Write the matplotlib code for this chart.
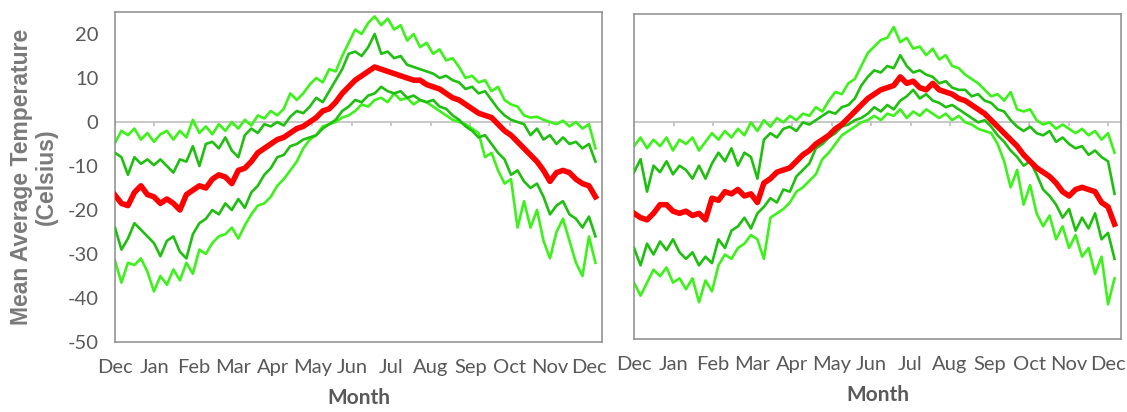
import numpy as np
import matplotlib.pyplot as plt

plt.rcParams['font.family'] = ['Lato', 'DejaVu Sans']
plt.rcParams['axes.unicode_minus'] = False

# sampled every 5 days starting 1 Dec
days = np.arange(0, 371, 5)
months = ["Dec", "Jan", "Feb", "Mar", "Apr", "May", "Jun",
          "Jul", "Aug", "Sep", "Oct", "Nov", "Dec"]
yticks = [-50, -40, -30, -20, -10, 0, 10, 20]

# ---- left station ----
left_p95 = [-4.8, -2, -3, -1.5, -4, -2.5, -4.5, -2.8, -2, -4, -2, -3.5, 0.5, -2.5, -1,
            -2.8, -0.5, -2, 0, -1.5, 0.5, -0.8, 1.5, 0.8, 2.5, 1.5, 3, 6.5, 5, 6.5,
            8.5, 10, 9, 12, 11.5, 15, 18, 21, 20, 22.5, 24, 22, 23.5, 21, 22,
            18.5, 20, 17, 18, 15.5, 16.5, 14, 14.5, 12.5, 10, 10.5, 9, 9.5, 7, 8,
            5, 4, 3.5, 1.5, 1, 1.2, 0.5, 0, -0.5, 0.3, -1, 0, -1.5, -0.5, -6]
left_p75 = [-7, -8, -12, -8, -9.5, -8.5, -9.8, -8.5, -10, -11.5, -8.5, -9, -5.5, -10, -5,
            -4.5, -6, -3.5, -6.5, -8, -3, -1.5, -2.5, -0.5, -1, 0, -0.8, 1.2, 2.5, 2,
            3.5, 5.5, 4.5, 7, 9.5, 12, 15.5, 16, 15, 17, 20, 15.5, 16, 14.5, 15,
            13, 12.5, 12, 11.5, 11, 10, 10.5, 9.5, 9, 7.5, 8, 6.5, 7, 5, 3,
            1.5, 0.5, 0, -0.5, -3, -1.5, -4, -3, -5, -3.5, -5, -4.5, -6, -5, -9]
left_p50 = [-16.6, -18.5, -19, -16, -14.5, -16.5, -17, -18.5, -17.5, -18.5, -20, -16.5, -15.5, -14.5, -15,
            -13, -12, -12.5, -14, -11, -10.5, -9, -7, -6, -5, -4, -3.5, -2.5, -1.5, -1,
            0, 1, 2.5, 3, 4.5, 6.5, 8, 9.5, 10.5, 11.5, 12.5, 12, 11.5, 11, 10.5,
            10, 9.5, 9.5, 8.5, 8, 7.5, 6.5, 5.5, 5, 4, 3, 2, 1.5, 1, -0.5,
            -2, -3, -4.5, -6, -7.5, -9, -11, -13.5, -11.5, -11, -11.5, -13, -14, -14.5, -17]
left_p25 = [-24, -29, -26.5, -23, -24.5, -26, -27.5, -30.5, -27, -26, -29.5, -31, -25.5, -23, -22,
            -20, -21, -18.5, -20, -17.5, -19.5, -16, -14.5, -12, -10.5, -8, -7.5, -5.5, -5, -4,
            -3.5, -3, -1.5, -0.5, 0.5, 2.5, 3.5, 5, 4.5, 6, 6.5, 8, 7, 6.5, 7,
            5.5, 6, 5, 4.5, 5, 3.5, 3, 1.5, 0.5, -1, -2, -3.5, -3, -5, -7,
            -8.5, -12, -11, -13.5, -15, -14, -17, -21, -19, -18, -21, -22, -24, -21.5, -26]
left_p5 = [-31.5, -36.5, -32, -32.5, -31, -34, -38.5, -35, -37, -33.5, -36, -32, -34.5, -29, -30,
           -27.5, -26, -25.5, -24, -26.5, -23.5, -21, -19, -18.5, -17, -14.5, -13, -11, -9, -6,
           -4, -3, -1, -0.5, 0, 1, 1.5, 2.5, 4, 3.5, 5, 5.5, 4.5, 6.5, 5,
           5.5, 4, 5, 4.5, 3.5, 2.5, 1.5, 0.5, 0, -0.5, -1.5, -2.5, -8, -7, -11,
           -14, -13, -24, -18, -24, -20, -27, -31, -25, -22, -27, -32, -35, -26, -32]

# ---- right station ----
right_p95 = [-5.5, -3.5, -6, -4, -5.5, -3.5, -6.5, -4, -5, -3.5, -6.5, -4.5, -2.5, -4, -2,
             -3.5, -1.5, -3, 0, -2, 0.5, -1, 1, 0, 1.5, 0.5, 2, 1.5, 3.5, 2.5,
             5, 7, 6.5, 9, 10, 13, 16, 17.5, 19, 19.5, 22, 18.5, 19.5, 17, 17.5,
             15.5, 17, 14.5, 15.5, 13, 12.5, 11, 10, 9, 7.5, 6, 6.5, 5, 7, 3,
             2.5, 3, 0.5, -0.5, 0, -1.5, -0.5, -1.5, -2.5, -1.5, -3, -2, -4, -2.5, -7]
right_p75 = [-11.5, -8.5, -16, -10, -11.5, -9, -12, -10, -11, -13, -10, -13, -9.5, -7, -9,
             -6, -10, -7, -8, -13, -4, -2.5, -3.5, -1.5, -1, -2, 0, -0.5, 0.5, 1.5,
             2.5, 2, 3.5, 4, 5.5, 8.5, 10.5, 12, 11.5, 13, 12.5, 15.5, 13, 11.5, 12,
             11, 10.5, 9, 9.5, 8, 7.5, 7.5, 6, 6.5, 5, 4.5, 3, 2.5, 0.5, -1,
             -2, -1, -2.5, -3, -2, -4.5, -3.5, -5, -6, -5.5, -7.5, -6.5, -8, -9, -16.5]
right_p50 = [-21, -22, -22.5, -21, -19, -19, -20.5, -21, -20.5, -21.5, -21, -22.5, -17.5, -18, -16,
             -16.5, -15.5, -17, -16.5, -18.5, -14, -13, -11.5, -11, -10.5, -9, -7.5, -6.5, -5, -4,
             -3, -1.5, -0.5, 1, 2.5, 4, 5.5, 6.5, 7.5, 8, 8.5, 10.5, 9, 9.5, 8,
             7.5, 9, 7.5, 7, 6.5, 5.5, 5, 4, 3, 2, 0.5, -1, -2.5, -4, -5.5,
             -7.5, -9, -10.5, -11.5, -12.5, -14, -16, -17, -15.5, -15, -15.5, -16, -18.5, -19.5, -23.5]
right_p25 = [-29, -33, -28, -30.5, -27.5, -29.5, -27, -30, -31.5, -30, -33, -31, -32.5, -27, -29,
             -25, -24, -22, -24.5, -21, -19.5, -17.5, -18.5, -15.5, -16, -12.5, -11, -9.5, -6, -5,
             -3.5, -2.5, -1, -0.5, 0.5, 1, 2, 3.5, 2.5, 4, 3, 5, 6, 7.5, 5.5,
             6.5, 5, 4.5, 3.5, 4, 3, 2, 1, 0, 0.5, -1, -3, -4.5, -6.5, -8,
             -10, -9, -12, -15.5, -17, -19, -22, -20, -25, -22, -24.5, -21, -27, -25.5, -31.5]
right_p5 = [-37, -40, -37, -34, -35.5, -33.5, -37, -36, -38.5, -36, -41.5, -36.5, -39, -33, -30.5,
            -31.5, -29, -28, -26, -27, -31.5, -22, -21, -20, -18.5, -16, -15, -13.5, -12, -8.5,
            -7, -5, -3, -2, -1, 0, 0.5, 1.5, 0.5, 2, 1.5, 3, 1, 2.5, 1.5,
            3, 2, 1, 2, 0.5, 1.5, 0, -0.5, -1.5, -2, -2.5, -5, -9, -15, -11,
            -19, -14.5, -21, -24, -21.5, -27, -24, -29, -26, -31, -29, -35, -31, -42, -36]

LIGHT = '#3cf21a'
DARK = '#1fbf10'
GRAY_TXT = '#595959'

month_pos = np.arange(13) * 365 / 12


def panel(ax, p5, p25, p50, p75, p95, show_y):
    # excel-style horizontal axis sitting at zero
    ax.axhline(0, color='#bfbfbf', lw=1.2, zorder=1)
    ax.vlines(month_pos, -0.9, 0, color='#bfbfbf', lw=1.2, zorder=1)

    ax.plot(days, p5, color=LIGHT, lw=1.9, zorder=2)
    ax.plot(days, p95, color=LIGHT, lw=1.9, zorder=2)
    ax.plot(days, p25, color=DARK, lw=1.9, zorder=3)
    ax.plot(days, p75, color=DARK, lw=1.9, zorder=3)
    ax.plot(days, p50, color='#ff0000', lw=4, zorder=4)

    ax.set_xlim(0, 375)
    ax.set_ylim(-50, 25)
    ax.set_xticks(month_pos, months)
    ax.tick_params(axis='x', length=0, pad=12, labelsize=14.5, labelcolor=GRAY_TXT)
    ax.set_yticks(yticks)
    if show_y:
        ax.tick_params(axis='y', length=0, pad=12, labelsize=14.5, labelcolor=GRAY_TXT)
    else:
        ax.tick_params(axis='y', length=0, labelleft=False)
    for sp in ax.spines.values():
        sp.set_color('#8c8c8c')
        sp.set_linewidth(1.1)
    ax.set_xlabel("Month", fontsize=15, fontweight='bold', color=GRAY_TXT, labelpad=9)


fig = plt.figure(figsize=(11.27, 4.12), dpi=100)
ax1 = fig.add_axes([0.1020, 0.1699, 0.4321, 0.8010])
ax2 = fig.add_axes([0.5626, 0.1772, 0.4321, 0.7888])

panel(ax1, left_p5, left_p25, left_p50, left_p75, left_p95, True)
panel(ax2, right_p5, right_p25, right_p50, right_p75, right_p95, False)

fig.text(34 / 1127, 1 - 177 / 412, "Mean Average Temperature\n(Celsius)",
         rotation=90, ha='center', va='center', family='Liberation Sans',
         fontsize=16.5, fontweight='bold', color='#7a7a7a', linespacing=1.1)

fig.savefig("out.png", dpi=100)
